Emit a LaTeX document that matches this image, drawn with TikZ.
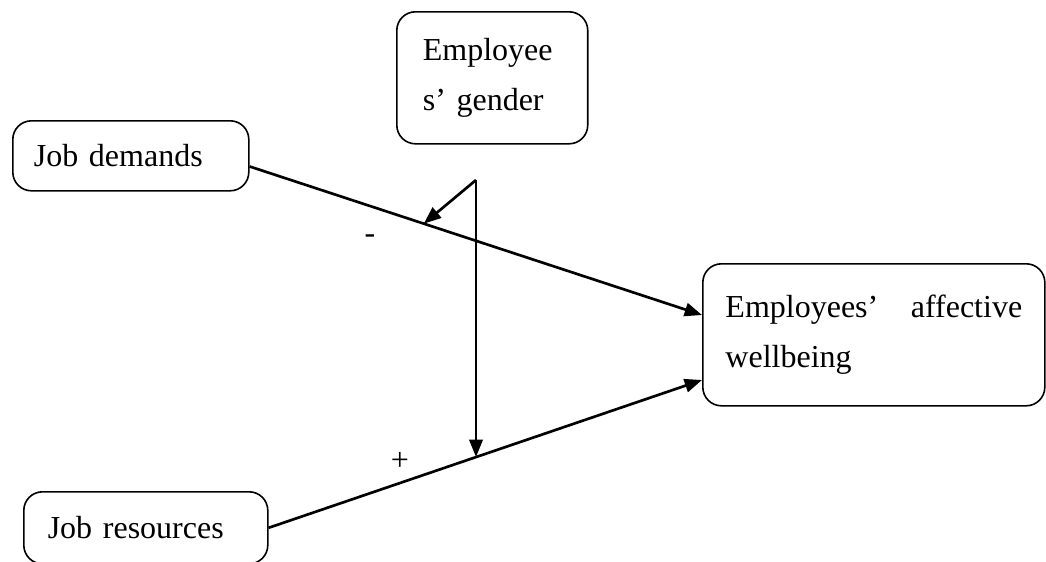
\documentclass[tikz,border=0pt]{standalone}
\usepackage{fontspec}
\setmainfont{Liberation Serif}
\usetikzlibrary{calc,arrows.meta,positioning}

\begin{document}
\begin{tikzpicture}[
      x=0.375pt, y=-0.375pt,
      Box/.style={
        draw, line width=0.6pt, rounded corners=7pt, anchor=north west,
        align=left, inner ysep=0pt,
        font=\fontsize{12}{18.75}\selectfont,
      },
      Arr/.style={
        line width=1pt, -{Triangle[length=6.5pt,width=5pt]},
      },
      ]
      \useasboundingbox (0,0) rectangle (1046,561);

      \node[Box, text width=52.1pt, inner xsep=9.75pt, minimum height=49.5pt] (G) at (396, 11) {Employee\\s' gender};
      \node[Box, text width=72.7pt, inner xsep=7.9pt, minimum height=26.25pt] (D) at (12, 120) {Job demands};
      \node[Box, text width=111.25pt, inner xsep=8.5pt, minimum height=53.25pt] (W) at (702, 263) {Employees'\hfill affective\\wellbeing};
      \node[Box, text width=73.5pt, inner xsep=9pt, minimum height=27pt] (R) at (23, 491) {Job resources};

      \draw[Arr] ([yshift=-4pt]D.east) -- coordinate[pos=0.385] (hitD) ($(W.north west)+(0,52)$);
      \draw[Arr] (R.east) -- coordinate[pos=0.479] (hitR) ($(W.north west)+(0,117)$);

      \coordinate (M) at (476, 180);
      \draw[Arr] (M) -- (M |- hitR);
      \draw[Arr] (M) -- (hitD);

      \node[font=\fontsize{12}{14}\selectfont] (minus) at (370, 239) {-};
      \node[font=\fontsize{12}{14}\selectfont] (plus) at (400, 461) {+};
    \end{tikzpicture}
\end{document}
